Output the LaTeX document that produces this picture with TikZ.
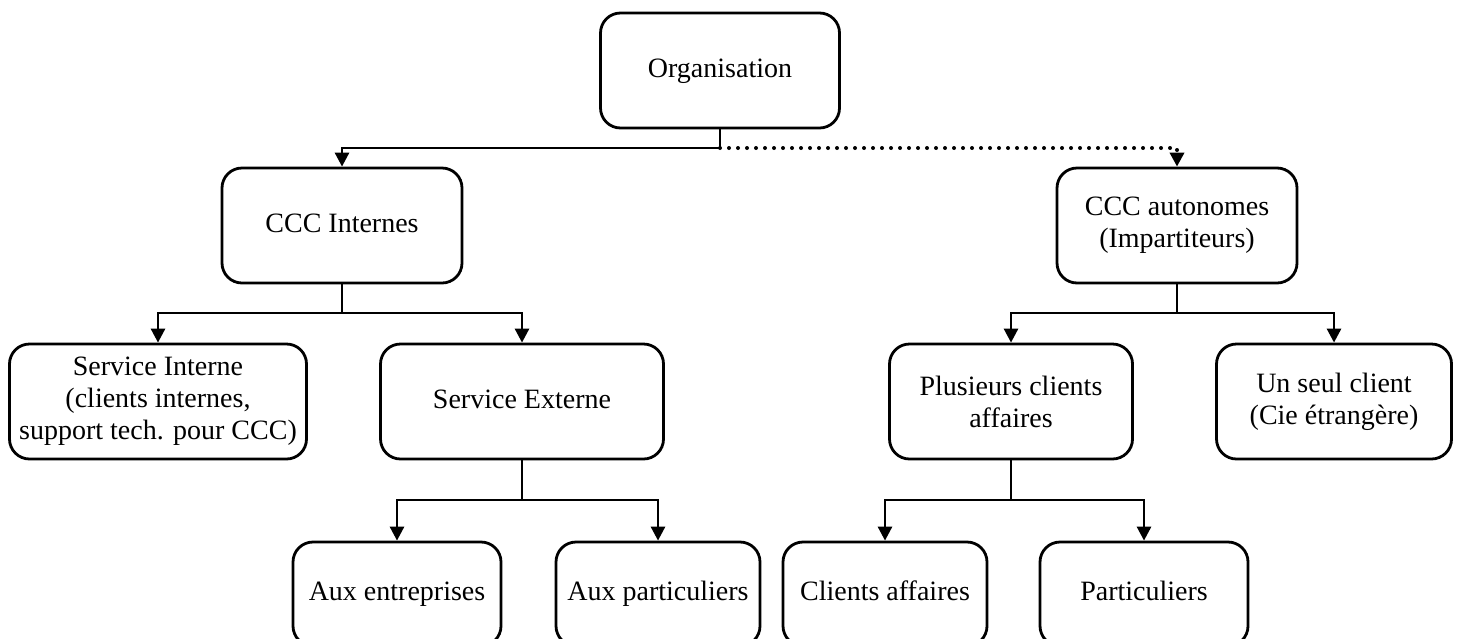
\documentclass[tikz,border=0pt]{standalone}
\usepackage{fontspec}
\setmainfont{Liberation Serif}
\usetikzlibrary{calc,arrows.meta}
\tikzset{
  box/.style={draw, line width=1.4pt, rounded corners=10pt, align=center,
    font=\fontsize{14}{16}\selectfont, inner sep=2pt},
  oneline/.style={text height=2.1ex, text depth=0.6ex},
  conn/.style={line width=1.4pt},
  arr/.style={conn, -{Triangle[width=7pt,length=7pt]}},
  dotarr/.style={line width=2pt, line cap=round, dash pattern=on 0pt off 4.5pt,
    -{Triangle[width=7pt,length=7pt]}},
  }
\begin{document}
\begin{tikzpicture}[x=0.5pt,y=-0.5pt]
  \useasboundingbox (0,0) rectangle (1459,638);

  % top
  \node[box,oneline,minimum width=119.5pt,minimum height=57.5pt] (org) at (720,70.5) {Organisation};
  \node[box,oneline,minimum width=120pt,minimum height=57.5pt] (ccci) at (342,225.5) {CCC Internes};
  \node[box,minimum width=120pt,minimum height=57.5pt] (ccca) at (1177,225.5) {CCC autonomes\\(Impartiteurs)};

  % second level
  \node[box,minimum width=148.5pt,minimum height=57.5pt] (si) at (158,401.5)
    {Service Interne\\(clients internes,\\support tech. pour CCC)};
  \node[box,oneline,minimum width=141.5pt,minimum height=57.5pt] (se) at (522,401.5) {Service Externe};
  \node[box,minimum width=121.5pt,minimum height=57.5pt] (pc) at (1011,401.5) {Plusieurs clients\\affaires};
  \node[box,minimum width=117.5pt,minimum height=57.5pt] (usc) at (1334,401.5) {Un seul client\\(Cie étrangère)};

  % bottom
  \node[box,oneline,minimum width=104pt,minimum height=52pt] (ae) at (397,594) {Aux entreprises};
  \node[box,oneline,minimum width=102pt,minimum height=52pt] (ap) at (658,594) {Aux particuliers};
  \node[box,oneline,minimum width=102pt,minimum height=52pt] (ca) at (885,594) {Clients affaires};
  \node[box,oneline,minimum width=104pt,minimum height=52pt] (pa) at (1144,594) {Particuliers};

  % junctions
  \coordinate (j0) at (720,148);
  \coordinate (j1) at (342,313);
  \coordinate (j2) at (1177,313);
  \coordinate (j3) at (522,500);
  \coordinate (j4) at (1011,500);

  % connectors
  \draw[conn] (org.south) -- (j0);
  \draw[arr] (j0) -| (ccci.north);
  \draw[dotarr] (j0) -| (ccca.north);

  \draw[conn] (ccci.south) -- (j1);
  \draw[arr] (j1) -| (si.north);
  \draw[arr] (j1) -| (se.north);

  \draw[conn] (ccca.south) -- (j2);
  \draw[arr] (j2) -| (pc.north);
  \draw[arr] (j2) -| (usc.north);

  \draw[conn] (se.south) -- (j3);
  \draw[arr] (j3) -| (ae.north);
  \draw[arr] (j3) -| (ap.north);

  \draw[conn] (pc.south) -- (j4);
  \draw[arr] (j4) -| (ca.north);
  \draw[arr] (j4) -| (pa.north);
\end{tikzpicture}
\end{document}
